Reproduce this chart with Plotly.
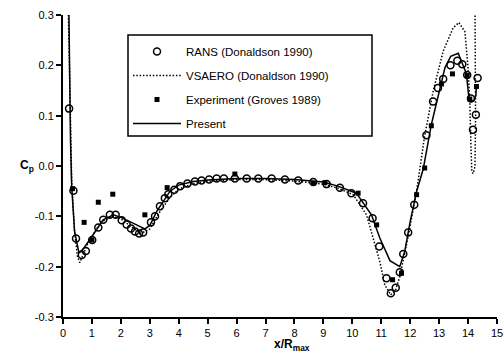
import plotly.graph_objects as go

# ---- data ----
rans_x = [0.21, 0.36, 0.45, 0.65, 0.79, 1.01, 1.22, 1.39, 1.62, 1.82, 2.03, 2.2, 2.35, 2.49, 2.63, 2.77,
          3.04, 3.18, 3.35, 3.52, 3.64, 3.85, 4.05, 4.3, 4.56, 4.79, 5.05, 5.31, 5.56, 5.94, 6.35, 6.75,
          7.21, 7.67, 8.13, 8.65, 9.11, 9.57, 9.97, 10.37, 10.7, 10.93, 11.18, 11.33, 11.5, 11.64, 11.76,
          11.93, 12.14, 12.56, 12.79, 12.96, 13.14, 13.39, 13.63, 13.8, 13.97, 14.1, 14.17, 14.27, 14.33]
rans_y = [0.114, -0.049, -0.144, -0.177, -0.169, -0.147, -0.122, -0.107, -0.097, -0.097, -0.108, -0.116,
          -0.124, -0.130, -0.134, -0.132, -0.112, -0.100, -0.080, -0.064, -0.056, -0.047, -0.040, -0.035,
          -0.031, -0.029, -0.027, -0.025, -0.025, -0.025, -0.025, -0.025, -0.025, -0.027, -0.029, -0.032,
          -0.036, -0.043, -0.054, -0.074, -0.104, -0.160, -0.223, -0.253, -0.242, -0.211, -0.175, -0.132,
          -0.077, 0.061, 0.128, 0.155, 0.173, 0.200, 0.209, 0.202, 0.181, 0.134, 0.072, 0.102, 0.175]

vsaero_x = [0.18, 0.2, 0.24, 0.3, 0.4, 0.5, 0.58, 0.7, 0.85, 1.0, 1.3, 1.7, 2.0, 2.3, 2.7, 3.0, 3.3, 3.7,
            4.0, 4.5, 5.0, 6.0, 7.0, 8.0, 9.0, 9.5, 10.03, 10.49, 10.72, 10.95, 11.12, 11.33, 11.5, 11.64,
            11.93, 12.22, 12.5, 12.8, 13.14, 13.48, 13.68, 13.89, 14.0, 14.06, 14.1, 14.13, 14.18, 14.24,
            14.26, 14.25, 14.24]
vsaero_y = [0.32, 0.25, 0.1, -0.03, -0.13, -0.18, -0.192, -0.175, -0.155, -0.14, -0.112, -0.1, -0.105,
            -0.118, -0.134, -0.125, -0.095, -0.062, -0.046, -0.035, -0.03, -0.027, -0.027, -0.03, -0.036,
            -0.044, -0.057, -0.097, -0.143, -0.19, -0.236, -0.256, -0.245, -0.22, -0.14, -0.05, 0.06, 0.15,
            0.228, 0.274, 0.285, 0.267, 0.195, 0.128, 0.04, -0.012, -0.015, 0.0, 0.1, 0.2, 0.31]

exp_x = [0.33, 0.73, 1.0, 1.22, 1.72, 2.83, 3.6, 5.94, 8.65, 9.05, 10.2, 10.84, 11.39, 11.7, 12.22, 12.5,
         12.73, 13.08, 13.46, 13.97, 14.06, 14.29]
exp_y = [-0.045, -0.112, -0.147, -0.072, -0.056, -0.097, -0.043, -0.016, -0.034, -0.033, -0.054, -0.117,
         -0.226, -0.213, -0.057, -0.004, 0.08, 0.163, 0.183, 0.18, 0.133, 0.158]

present_x = [0.2, 0.22, 0.26, 0.3, 0.4, 0.55, 0.7, 1.0, 1.39, 1.74, 2.0, 2.4, 2.83, 3.0, 3.24, 3.7, 4.0,
             4.5, 5.0, 6.0, 7.0, 8.0, 9.0, 9.5, 10.14, 10.66, 10.95, 11.3, 11.64, 11.81, 12.0, 12.22,
             12.45, 12.73, 13.02, 13.2, 13.4, 13.66, 13.94, 14.03, 14.1, 14.2, 14.27, 14.29]
present_y = [0.32, 0.18, 0.05, -0.04, -0.13, -0.172, -0.165, -0.14, -0.107, -0.097, -0.102, -0.113, -0.125,
             -0.118, -0.09, -0.05, -0.038, -0.031, -0.028, -0.025, -0.025, -0.027, -0.032, -0.04, -0.054,
             -0.097, -0.143, -0.188, -0.2, -0.17, -0.11, -0.051, -0.006, 0.082, 0.155, 0.195, 0.218,
             0.224, 0.184, 0.135, 0.128, 0.13, 0.14, 0.16]

x_ticks = list(range(0, 16))
x_tick_labels = [str(v) for v in x_ticks]
y_ticks = [0.3, 0.2, 0.1, 0.0, -0.1, -0.2, -0.3]
y_tick_labels = ["0.3", "0.2", "0.1", "0.0", "-0.1", "-0.2", "-0.3"]

FONT = "Liberation Sans, Arial, sans-serif"
W, H = 504, 362
ML, MR, MT, MB = 63, 7, 15, 45
PW, PH = W - ML - MR, H - MT - MB


def px_x(p):
    return (p - ML) / PW


def px_y(p):
    return (H - MB - p) / PH


fig = go.Figure()
fig.add_trace(go.Scatter(
    x=rans_x, y=rans_y, mode="markers", name="RANS (Donaldson 1990)", legendgroup="a",
    marker=dict(symbol="circle-open", size=7, color="black", line=dict(width=1.5, color="black"))))
fig.add_trace(go.Scatter(
    x=vsaero_x, y=vsaero_y, mode="lines", name="VSAERO (Donaldson 1990)", legendgroup="b",
    line=dict(color="black", width=1.5, dash="1.5px,1.8px")))
fig.add_trace(go.Scatter(
    x=exp_x, y=exp_y, mode="markers", name="Experiment (Groves 1989)", legendgroup="c",
    marker=dict(symbol="square", size=5, color="black")))
fig.add_trace(go.Scatter(
    x=present_x, y=present_y, mode="lines", name="Present", legendgroup="d",
    line=dict(color="black", width=1.5)))

axis_common = dict(
    showgrid=False, zeroline=False, showline=True, linecolor="black", linewidth=2,
    ticks="outside", ticklen=5, tickwidth=1.5, tickcolor="black", mirror=False,
    automargin=False, ticklabeloverflow="allow",
    tickfont=dict(family=FONT, size=11, color="black"),
)

fig.update_layout(
    width=W, height=H,
    margin=dict(l=ML, r=MR, t=MT, b=MB, autoexpand=False),
    paper_bgcolor="white", plot_bgcolor="white",
    font=dict(family=FONT, size=11, color="black"),
    showlegend=True,
    legend=dict(
        x=px_x(128), y=px_y(37), xanchor="left", yanchor="top",
        borderwidth=0, bgcolor="rgba(0,0,0,0)",
        font=dict(family=FONT, size=11.5, color="black"),
        traceorder="grouped", tracegroupgap=5, itemwidth=48,
    ),
    xaxis=dict(range=[0, 15], tickmode="array", tickvals=x_ticks, ticktext=x_tick_labels,
               **axis_common),
    yaxis=dict(range=[-0.3, 0.3], tickmode="array", tickvals=y_ticks, ticktext=y_tick_labels,
               **axis_common),
    shapes=[dict(type="rect", xref="paper", yref="paper",
                 x0=px_x(128), x1=px_x(372), y0=px_y(136), y1=px_y(35),
                 line=dict(color="black", width=1.5), fillcolor="rgba(0,0,0,0)", layer="below")],
    annotations=[
        dict(text="<b>x/R<sub>max</sub></b>", x=px_x(292), y=px_y(345), xref="paper", yref="paper",
             xanchor="center", yanchor="middle", showarrow=False,
             font=dict(family=FONT, size=12, color="black")),
        dict(text="<b>C<sub>p</sub></b>", x=px_x(27), y=px_y(166), xref="paper", yref="paper",
             xanchor="center", yanchor="middle", showarrow=False,
             font=dict(family=FONT, size=12, color="black")),
    ],
)

fig.write_html("out.html", config={"displayModeBar": False},
               post_script="document.body.style.margin='0';document.body.style.overflow='hidden';")
